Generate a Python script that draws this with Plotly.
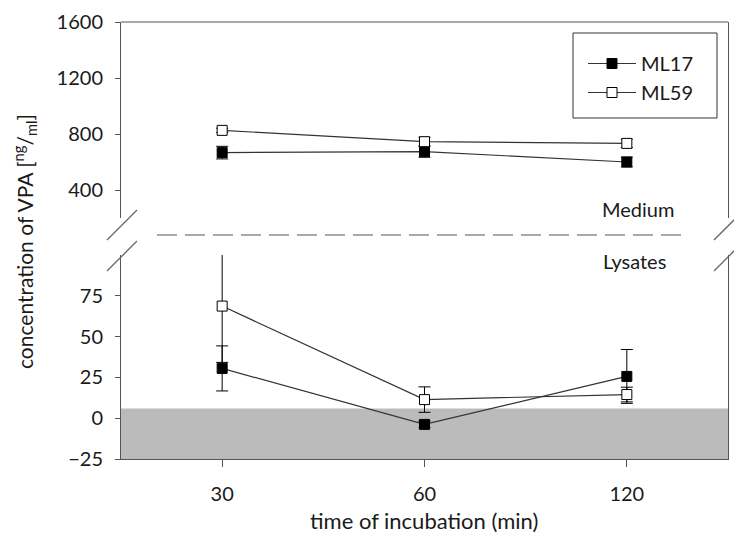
import plotly.graph_objects as go

# ---------------- data ----------------
times = ["30", "60", "120"]
series_names = ["ML17", "ML59"]

medium_ml17 = [667, 674, 600]
medium_ml17_err = [45, 40, 35]
medium_ml59 = [826, 745, 733]
medium_ml59_err = [15, 32, 30]

lysate_ml17 = [30.5, -3.8, 25.6]
lysate_ml17_err = [13.8, 2.0, 16.5]
lysate_ml59 = [68.7, 11.4, 14.5]
lysate_ml59_err = [34.5, 7.8, 4.5]

lod_low, lod_high = -25, 6          # grey band (below detection)
upper_ticks = [400, 800, 1200, 1600]
lower_ticks = [-25, 0, 25, 50, 75]

# ---------------- layout geometry ----------------
W, H = 734, 547
L, R, T, B = 121, 6, 22, 88
PW, PH = W - L - R, H - T - B


def px(x):
    return (x - L) / PW


def py(y):
    return (H - B - y) / PH


upper_dom = [py(218), 1.0]
lower_dom = [0.0, py(255)]

FONT = "Lato, 'Open Sans', sans-serif"
FS = 20
LINE_C = "#333333"
FRAME_C = "#555555"
TXT_C = "#1a1a1a"

fig = go.Figure()

styles = {
    "ML17": dict(symbol="square", color="black", line=dict(color="black", width=1)),
    "ML59": dict(symbol="square", color="white", line=dict(color="black", width=1)),
}

for name, vals, errs in [("ML17", medium_ml17, medium_ml17_err),
                         ("ML59", medium_ml59, medium_ml59_err)]:
    fig.add_trace(go.Scatter(
        x=times, y=vals, name=name, mode="lines+markers",
        yaxis="y2", xaxis="x",
        line=dict(color=LINE_C, width=1.2),
        marker=dict(size=10, **styles[name]),
        error_y=dict(type="data", array=errs, color="black", thickness=1, width=6),
        showlegend=True,
    ))

for name, vals, errs in [("ML17", lysate_ml17, lysate_ml17_err),
                         ("ML59", lysate_ml59, lysate_ml59_err)]:
    fig.add_trace(go.Scatter(
        x=times, y=vals, name=name, mode="lines+markers",
        yaxis="y", xaxis="x",
        line=dict(color=LINE_C, width=1.2),
        marker=dict(size=10, **styles[name]),
        error_y=dict(type="data", array=errs, color="black", thickness=1, width=6),
        showlegend=False,
    ))

shapes = []
# grey detection band
shapes.append(dict(type="rect", xref="x domain", yref="y", x0=0, x1=1,
                   y0=lod_low, y1=lod_high, fillcolor="#bbbbbb",
                   line=dict(width=0), layer="below"))
# top border
shapes.append(dict(type="line", xref="paper", yref="paper", x0=0, x1=1, y0=1, y1=1,
                   line=dict(color=FRAME_C, width=1)))
# break slashes (left and right)
for cx in (L, W - R):
    for y0 in (240, 271):
        shapes.append(dict(type="line", xref="paper", yref="paper",
                           x0=px(cx - 14), x1=px(cx + 16),
                           y0=py(y0), y1=py(y0 - 30),
                           line=dict(color="#666666", width=1.3)))
# dashed separator between medium and lysates
shapes.append(dict(type="line", xref="paper", yref="paper",
                   x0=px(157), x1=px(686), y0=py(235), y1=py(235),
                   line=dict(color="#555555", width=1.2, dash="20px,8px")))
# legend box
shapes.append(dict(type="rect", xref="paper", yref="paper",
                   x0=px(573), x1=px(717), y0=py(118), y1=py(33),
                   line=dict(color="#333333", width=1), fillcolor="white",
                   layer="below"))


def ann(text, x, y, size=FS, **kw):
    d = dict(text=text, x=px(x), y=py(y), xref="paper", yref="paper",
             xanchor="center", yanchor="middle", showarrow=False,
             font=dict(family=FONT, size=size, color=TXT_C))
    d.update(kw)
    return d


annotations = [
    ann("Medium", 638, 209),
    ann("Lysates", 634, 261),
    ann("concentration of VPA [<sup>ng</sup>/<sub>ml</sub>]", 25, 242, size=21, textangle=-90),
    ann("time of incubation (min)", 424, 520, size=22),
]

axis_common = dict(showgrid=False, zeroline=False, showline=True, linecolor=FRAME_C,
                   linewidth=1, ticks="outside", tickcolor=FRAME_C,
                   tickfont=dict(family=FONT, size=FS, color=TXT_C))

fig.update_layout(
    width=W, height=H,
    margin=dict(l=L, r=R, t=T, b=B, pad=0),
    paper_bgcolor="white", plot_bgcolor="rgba(0,0,0,0)",
    font=dict(family=FONT, size=FS, color=TXT_C),
    xaxis=dict(type="category", range=[-0.5, 2.5], anchor="y",
               ticklen=7, ticklabelstandoff=10, **axis_common),
    yaxis=dict(domain=lower_dom, range=[-25, 100], tickvals=lower_ticks,
               mirror=True, anchor="x", ticklen=5, ticklabelstandoff=8, **axis_common),
    yaxis2=dict(domain=upper_dom, range=[200, 1600], tickvals=upper_ticks,
                mirror=True, anchor="x", ticklen=5, ticklabelstandoff=8, **axis_common),
    legend=dict(x=px(583), y=py(44), xanchor="left", yanchor="top",
                bgcolor="rgba(0,0,0,0)", borderwidth=0,
                font=dict(family=FONT, size=FS, color=TXT_C),
                itemwidth=48, tracegroupgap=0),
    shapes=shapes,
    annotations=annotations,
    showlegend=True,
)

fig.write_html("out.html")
